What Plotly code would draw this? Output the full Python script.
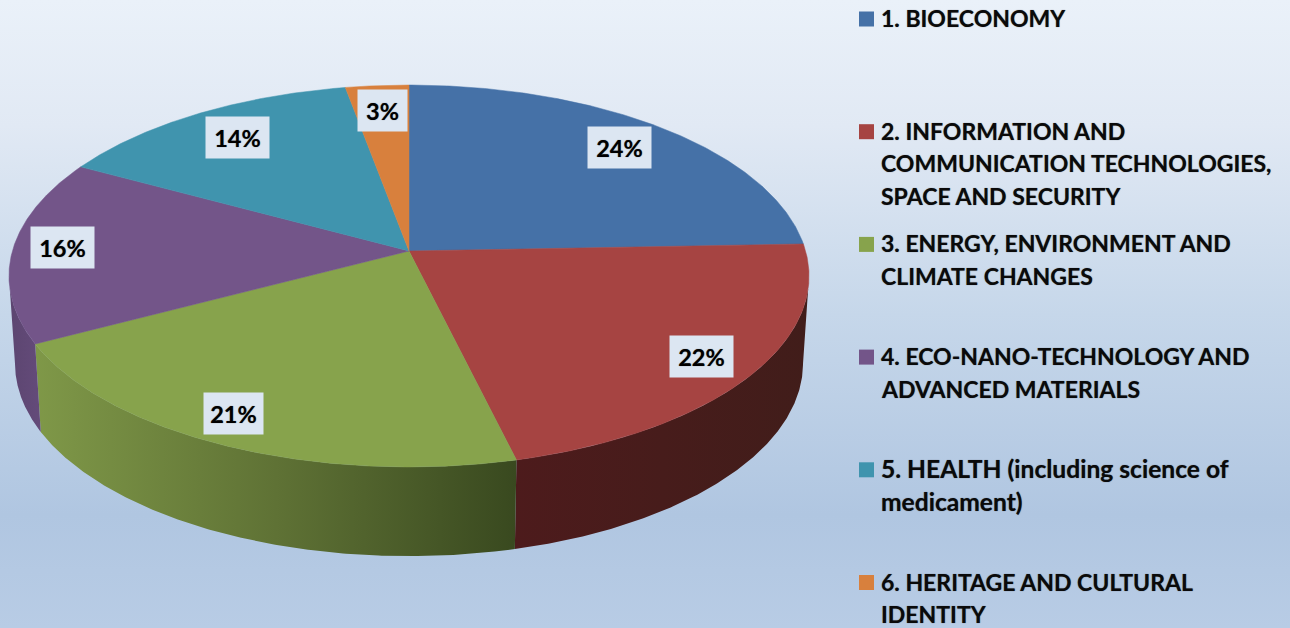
import numpy as np
import plotly.graph_objects as go

# ---- data (estimated slice shares, labels show the rounded value) ----
categories = ["1. BIOECONOMY",
              "2. INFORMATION AND COMMUNICATION TECHNOLOGIES, SPACE AND SECURITY",
              "3. ENERGY, ENVIRONMENT AND CLIMATE CHANGES",
              "4. ECO-NANO-TECHNOLOGY AND ADVANCED MATERIALS",
              "5. HEALTH (including science of medicament)",
              "6. HERITAGE AND CULTURAL IDENTITY"]
shares = [24.4, 21.8, 21.1, 15.6, 14.2, 2.9]
legend_lines = [["1. BIOECONOMY"],
                ["2. INFORMATION AND", "COMMUNICATION TECHNOLOGIES,", "SPACE AND SECURITY"],
                ["3. ENERGY, ENVIRONMENT AND", "CLIMATE CHANGES"],
                ["4. ECO-NANO-TECHNOLOGY AND", "ADVANCED MATERIALS"],
                ["5. HEALTH (including science of", "medicament)"],
                ["6. HERITAGE AND CULTURAL", "IDENTITY"]]

# ---- style ----
top_colors = ["#4571A7", "#A64442", "#87A34C", "#735589", "#4094AE", "#D8803D"]
wall_scales = {1: [[0, "#4D1B1C"], [1, "#411D1A"]],
               2: [[0, "#7F9848"], [0.5, "#5F7235"], [1, "#39491F"]],
               3: [[0, "#5C4570"], [1, "#644B7A"]]}
bg_scale = [[0, "#EAF1F9"], [0.2, "#E1E9F4"], [0.5, "#C6D7EA"],
            [0.82, "#B0C6E1"], [1, "#B8CCE5"]]
FONT = "Lato"
SHADOW = "0 0 1px rgba(0,0,0,0.55)"
W, H = 1290, 628
CX, CY, A, B, K = 409, 251, 396.6, 187.7, 0.1309
WALL_D, WALL_SX, WALL_SY = 87, 0.985, 1.01


def project(theta, r=1.0):
    """Perspective view of a pie disc; theta clockwise from 12 o'clock."""
    u, v = r * np.sin(theta), r * np.cos(theta)
    w = 1 + K * v
    return CX + A * u / w, CY - B * v / w


def to_bottom(x, y):
    return CX + WALL_SX * (x - CX), CY + WALL_D + WALL_SY * (y - CY)


cum = np.concatenate([[0], np.cumsum(shares)]) / np.sum(shares) * 2 * np.pi
# angle at which the disc reaches its widest point on screen (wall silhouette)
TH_EXT = np.pi / 2 + np.arcsin(K)
fig = go.Figure()

# background
fig.add_trace(go.Scatter(x=[0, W, W, 0, 0], y=[0, 0, H, H, 0], mode="lines",
                         line=dict(width=0), fill="toself",
                         fillgradient=dict(type="vertical", colorscale=bg_scale,
                                           start=0, stop=H),
                         hoverinfo="skip"))

# side walls
for i, scale in wall_scales.items():
    start = max(cum[i], TH_EXT)
    stop = min(cum[i + 1], 2 * np.pi - TH_EXT)
    th = np.linspace(start, stop, 200)
    x, y = project(th)
    xb, yb = to_bottom(x, y)
    fig.add_trace(go.Scatter(x=np.r_[x, xb[::-1], x[0]], y=np.r_[y, yb[::-1], y[0]],
                             mode="lines", line=dict(width=0), fill="toself",
                             fillgradient=dict(type="horizontal", colorscale=scale),
                             hoverinfo="skip"))

# top face
for i, c in enumerate(top_colors):
    th = np.linspace(cum[i], cum[i + 1], 200)
    x, y = project(th)
    fig.add_trace(go.Scatter(x=np.r_[CX, x, CX], y=np.r_[CY, y, CY], mode="lines",
                             line=dict(width=0.5, color=c), fill="toself", fillcolor=c,
                             name=categories[i], hoverinfo="skip"))

annotations = []
# data labels
nudges = [(6, -2.5), (22.5, 8.5), (-31.5, 11), (-29.5, -2.5), (0.5, -1.5), (0, -5.5)]
for i, s in enumerate(shares):
    lx, ly = project((cum[i] + cum[i + 1]) / 2, 0.8)
    txt = f"{round(s)}%"
    annotations.append(dict(x=lx + nudges[i][0], y=ly + nudges[i][1], text=txt, showarrow=False,
                            xref="x", yref="y", bgcolor="#DCE6F2",
                            width=47 if len(txt) == 2 else (57 if i == 2 else 61), height=39,
                            align="center", valign="middle",
                            font=dict(family=FONT, size=23.5, color="#000000", weight=700,
                                      shadow=SHADOW)))

# legend
LEG_Y0, LEG_PITCH, LINE_PITCH = 18, 112.7, 32.7
mx, my = [], []
for i, lines in enumerate(legend_lines):
    y0 = LEG_Y0 + i * LEG_PITCH
    mx.append(866.5)
    my.append(y0 + 1)
    for j, line in enumerate(lines):
        # Lato's lower case runs narrow next to the reference face
        size = 23 if line.upper() == line else 24.6
        annotations.append(dict(x=879, y=y0 + j * LINE_PITCH, text=line, showarrow=False,
                                xref="x", yref="y", xanchor="left", yanchor="middle",
                                font=dict(family=FONT, size=size, color="#0A0A0A", weight=700,
                                          shadow=SHADOW)))
fig.add_trace(go.Scatter(x=mx, y=my, mode="markers", hoverinfo="skip",
                         marker=dict(symbol="square", size=15, color=top_colors,
                                     line=dict(width=0))))

fig.update_layout(width=W, height=H, margin=dict(l=0, r=0, t=0, b=0), showlegend=False,
                  paper_bgcolor="#C6D7EA", plot_bgcolor="#C6D7EA", annotations=annotations,
                  xaxis=dict(range=[0, W], visible=False, fixedrange=True),
                  yaxis=dict(range=[H, 0], visible=False, fixedrange=True))
fig.write_html("out.html", config=dict(displayModeBar=False),
               post_script="document.body.style.margin='0';document.documentElement.style.overflow='hidden';")
